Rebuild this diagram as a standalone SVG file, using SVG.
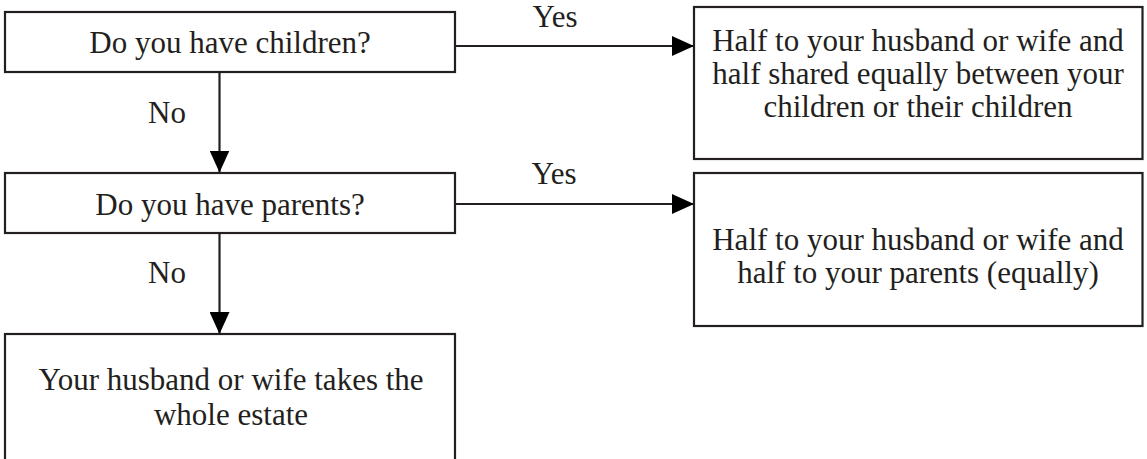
<svg xmlns="http://www.w3.org/2000/svg" width="1147" height="459" viewBox="0 0 1147 459">
<style>
.box{fill:#fff;stroke:#231f20;stroke-width:2.2}
.t{font-family:"Liberation Serif","Times New Roman",serif;font-size:31px;fill:#231f20;text-anchor:middle}
.c{stroke:#231f20;stroke-width:2.2;fill:none}
</style>
<defs>
<marker id="ah" markerUnits="userSpaceOnUse" markerWidth="22" markerHeight="20" refX="22" refY="10" orient="auto">
<path d="M0,0 L22,10 L0,20 z" fill="#000"/>
</marker>
</defs>
<rect width="1147" height="459" fill="#fff"/>
<g id="connectors">
<line class="c" x1="219.5" y1="72" x2="219.5" y2="172.5" marker-end="url(#ah)"/>
<line class="c" x1="219.5" y1="233" x2="219.5" y2="334" marker-end="url(#ah)"/>
<line class="c" x1="455" y1="46" x2="694" y2="46" marker-end="url(#ah)"/>
<line class="c" x1="455" y1="204" x2="694" y2="204" marker-end="url(#ah)"/>
<text class="t" x="167" y="123">No</text>
<text class="t" x="167" y="283">No</text>
<text class="t" x="555" y="27">Yes</text>
<text class="t" x="554" y="184">Yes</text>
</g>
<g id="q-children">
<rect class="box" x="5" y="12" width="450" height="60"/>
<text class="t" x="230" y="53">Do you have children?</text>
</g>
<g id="q-parents">
<rect class="box" x="5" y="173" width="450" height="60"/>
<text class="t" x="230" y="215">Do you have parents?</text>
</g>
<g id="r-whole">
<rect class="box" x="5" y="334" width="450" height="130"/>
<text class="t" x="231" y="390">Your husband or wife takes the</text>
<text class="t" x="231" y="425">whole estate</text>
</g>
<g id="r-children">
<rect class="box" x="694" y="7" width="448.5" height="152"/>
<text class="t" x="918" y="51">Half to your husband or wife and</text>
<text class="t" x="918" y="84">half shared equally between your</text>
<text class="t" x="918" y="117">children or their children</text>
</g>
<g id="r-parents">
<rect class="box" x="694" y="173" width="448.5" height="153"/>
<text class="t" x="918" y="250">Half to your husband or wife and</text>
<text class="t" x="918" y="283">half to your parents (equally)</text>
</g>
</svg>
